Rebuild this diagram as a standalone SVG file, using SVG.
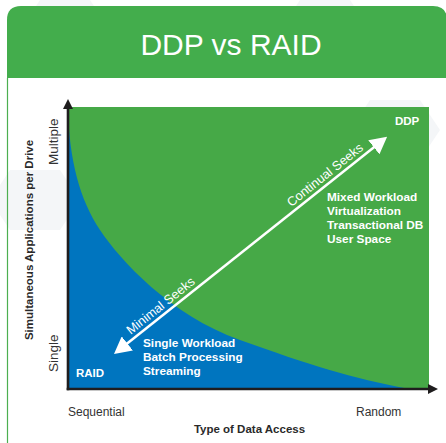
<svg xmlns="http://www.w3.org/2000/svg" width="446" height="443" viewBox="0 0 446 443">
  <defs>
    <style>
      .title { font-family: "Liberation Sans", Arial, sans-serif; font-size: 30px; fill: #ffffff; }
      .lbl { font-family: "Liberation Sans", Arial, sans-serif; font-size: 12px; fill: #333333; }
      .axis-title { font-family: "Liberation Sans", Arial, sans-serif; font-size: 11.5px; font-weight: bold; fill: #2a2a2a; }
      .end { font-family: "Liberation Sans", Arial, sans-serif; font-size: 13.5px; fill: #333333; }
      .in { font-family: "Liberation Sans", Arial, sans-serif; font-size: 11.8px; font-weight: bold; fill: #ffffff; }
      .tag { font-family: "Liberation Sans", Arial, sans-serif; font-size: 11.5px; font-weight: bold; fill: #ffffff; }
      .seek { font-family: "Liberation Sans", Arial, sans-serif; font-size: 12.8px; fill: #ffffff; }
      .axis { stroke: #1f1d1e; stroke-width: 2.6; fill: none; }
      .hex { fill: #f4f6f8; }
    </style>
    <marker id="tri" viewBox="0 0 17 18" refX="7" refY="9" markerWidth="17" markerHeight="18" markerUnits="userSpaceOnUse" orient="auto-start-reverse">
      <path d="M0,0 L17,9 L0,18 Z" fill="#ffffff"/>
    </marker>
    <marker id="axhead" viewBox="0 0 10 10" refX="2" refY="5" markerWidth="10" markerHeight="10" markerUnits="userSpaceOnUse" orient="auto">
      <path d="M0,0 L10,5 L0,10 Z" fill="#1f1d1e"/>
    </marker>
  </defs>

  <!-- page background with faint hexagon texture -->
  <rect x="0" y="0" width="446" height="443" fill="#ffffff"/>
  <g id="texture">
    <polygon class="hex" points="40,0 90,0 110,30 90,60 40,60 20,30"/>
    <polygon class="hex" points="300,0 350,0 370,30 350,60 300,60 280,30"/>
    <polygon class="hex" points="10,170 60,170 80,200 60,230 10,230 -10,200"/>
    <polygon class="hex" points="370,100 420,100 440,130 420,160 370,160 350,130"/>
  </g>

  <!-- card -->
  <g id="card">
    <line x1="7.5" y1="78" x2="7.5" y2="443" stroke="#4caf50" stroke-width="1.2"/>
    <path d="M7,78 V20 Q7,6 21,6 H433 Q447,6 447,20 V78 Z" fill="#43ad4c"/>
    <text class="title" x="231" y="55" text-anchor="middle">DDP vs RAID</text>
  </g>

  <!-- plot regions -->
  <g id="ddp-region">
    <rect x="68" y="107" width="361" height="282" fill="#46a947"/>
    <text class="tag" x="395" y="125">DDP</text>
    <text class="in" x="327" y="201">Mixed Workload</text>
    <text class="in" x="327" y="215">Virtualization</text>
    <text class="in" x="327" y="229">Transactional DB</text>
    <text class="in" x="327" y="243">User Space</text>
  </g>
  <g id="raid-region">
    <path d="M68,108 C69,160 80,200 100,230 S170,315 240,340 S350,378 410,389 L68,389 Z" fill="#0075bf"/>
    <text class="tag" x="76" y="377">RAID</text>
    <text class="in" x="143" y="347">Single Workload</text>
    <text class="in" x="143" y="361">Batch Processing</text>
    <text class="in" x="143" y="375">Streaming</text>
  </g>

  <!-- connectors: seek arrow and axes -->
  <g id="connectors">
    <g transform="translate(114,354) rotate(-38.5)">
      <line x1="10" y1="0" x2="339" y2="0" stroke="#ffffff" stroke-width="2.5" marker-start="url(#tri)" marker-end="url(#tri)"/>
      <text class="seek" x="25" y="-4.5">Minimal Seeks</text>
      <text class="seek" x="230" y="-4.5">Continual Seeks</text>
    </g>
    <line class="axis" x1="68" y1="390.3" x2="68" y2="107" marker-end="url(#axhead)"/>
    <line class="axis" x1="66.7" y1="389" x2="430" y2="389" marker-end="url(#axhead)"/>
  </g>

  <!-- axis labels -->
  <g id="axis-labels">
    <text class="lbl" x="68" y="416">Sequential</text>
    <text class="lbl" x="356" y="416">Random</text>
    <text class="axis-title" x="249.5" y="433" text-anchor="middle">Type of Data Access</text>
    <text class="axis-title" transform="translate(33,240) rotate(-90)" text-anchor="middle">Simultaneous Applications per Drive</text>
    <text class="end" transform="translate(57.5,165) rotate(-90)">Multiple</text>
    <text class="end" transform="translate(57.5,372) rotate(-90)">Single</text>
  </g>
</svg>
